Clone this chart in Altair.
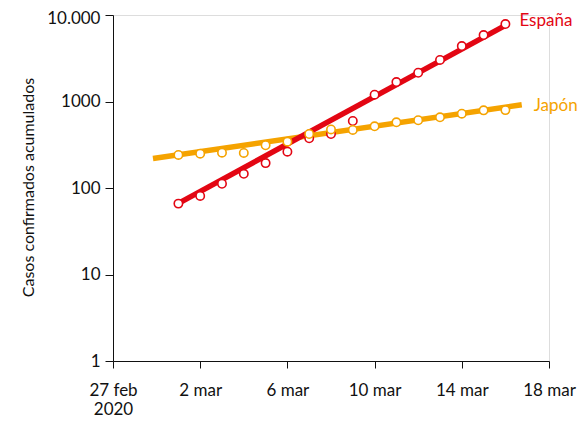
import json
import altair as alt
import pandas as pd

# ---- data ----
dates = ["2020-03-01", "2020-03-02", "2020-03-03", "2020-03-04", "2020-03-05",
         "2020-03-06", "2020-03-07", "2020-03-08", "2020-03-09", "2020-03-10",
         "2020-03-11", "2020-03-12", "2020-03-13", "2020-03-14", "2020-03-15",
         "2020-03-16"]
espana = [66, 81, 112, 146, 194, 263, 376, 421, 595, 1200, 1680, 2150, 3020,
          4380, 5870, 7850]
japon = [241, 249, 256, 254, 312, 343, 421, 475, 469, 517, 575, 607, 657,
         723, 790, 795]

# fitted trend lines (start / end)
fit_espana_dates = ["2020-03-01", "2020-03-16"]
fit_espana_vals = [66.5, 7600]
fit_japon_dates = ["2020-02-28T20:00:00", "2020-03-16T18:00:00"]
fit_japon_vals = [219, 918]

series_names = ["España", "Japón"]
series_colors = ["#e30613", "#f5a300"]

x_domain = ["2020-02-27", "2020-03-18"]
x_tick_dates = ["2020-02-27", "2020-03-02", "2020-03-06", "2020-03-10",
                "2020-03-14", "2020-03-18"]
x_tick_labels = [["27 feb", "2020"], "2 mar", "6 mar", "10 mar", "14 mar", "18 mar"]
y_ticks = [1, 10, 100, 1000, 10000]
y_tick_labels = ["1", "10", "100", "1000", "10.000"]
y_title = "Casos confirmados acumulados"

label_text = ["España", "Japón"]


def ms(d):
    return int(pd.Timestamp(d, tz="UTC").value // 10**6)


pts = pd.DataFrame({
    "date": [ms(d) for d in dates] * 2,
    "value": espana + japon,
    "serie": ["España"] * len(dates) + ["Japón"] * len(dates),
})
fit = pd.DataFrame({
    "date": [ms(d) for d in fit_japon_dates] + [ms(d) for d in fit_espana_dates],
    "value": fit_japon_vals + fit_espana_vals,
    "serie": ["Japón", "Japón", "España", "España"],
})

# label expressions built from the tick lists
x_expr = "''"
for d, lab in reversed(list(zip(x_tick_dates, x_tick_labels))):
    x_expr = f"time(datum.value) == {ms(d)} ? {json.dumps(lab)} : ({x_expr})"
y_expr = "''"
for v, lab in reversed(list(zip(y_ticks, y_tick_labels))):
    y_expr = f"datum.value == {v} ? {json.dumps(lab)} : ({y_expr})"

FONT = "Lato"
INK = "#111111"
color = alt.Color("serie:N", scale=alt.Scale(domain=series_names, range=series_colors),
                  legend=None)

x = alt.X("date:T",
          scale=alt.Scale(type="utc", domain=[ms(d) for d in x_domain], nice=False),
          axis=alt.Axis(values=[ms(d) for d in x_tick_dates], labelExpr=x_expr,
                        title=None, grid=False, tickSize=7, labelPadding=14,
                        labelLineHeight=19, labelFontSize=17, labelFont=FONT,
                        labelColor=INK, domainColor=INK, tickColor=INK,
                        labelFlush=False, labelOverlap=False))
y = alt.Y("value:Q",
          scale=alt.Scale(type="log", domain=[1, 10000], nice=False),
          axis=alt.Axis(values=y_ticks, labelExpr=y_expr, title=y_title,
                        grid=False, tickSize=8, labelPadding=5,
                        labelFontSize=17, labelFont=FONT, labelColor=INK,
                        labelOffset={"condition": {"test": "datum.value == 10000",
                                                   "value": 3}, "value": 0},
                        titleFont=FONT, titleFontSize=16, titleFontWeight="normal",
                        titleColor=INK, titleX=-80, titleY=172, titleAlign="center",
                        titleBaseline="alphabetic",
                        domainColor=INK, tickColor=INK, labelFlush=False))

lines = alt.Chart(fit).mark_line(strokeWidth=5.5, strokeCap="butt").encode(
    x=x, y=y, color=color, detail="serie:N",
    order=alt.Order("date:Q"))

points = alt.Chart(pts).mark_point(shape="circle", filled=False, fill="white",
                                   fillOpacity=1, size=70, strokeWidth=1.6,
                                   opacity=1).encode(
    x=x, y=y, color=color)

labels_df = pd.DataFrame({
    "date": [ms(dates[-1]), ms(fit_japon_dates[-1])],
    "value": [espana[-1], fit_japon_vals[-1]],
    "serie": series_names,
    "label": label_text,
})
lab_es = alt.Chart(labels_df[labels_df.serie == "España"]).mark_text(
    align="left", baseline="middle", dx=14, dy=-3, fontSize=17, font=FONT).encode(
    x=x, y=y, text="label:N", color=color)
lab_jp = alt.Chart(labels_df[labels_df.serie == "Japón"]).mark_text(
    align="left", baseline="middle", dx=12, dy=1, fontSize=17, font=FONT).encode(
    x=x, y=y, text="label:N", color=color)

chart = alt.layer(lines, points, lab_es, lab_jp).properties(
    width=436, height=346,
    autosize=alt.AutoSizeParams(type="none"),
    padding={"left": 105, "top": 7, "right": 30, "bottom": 58},
).configure_view(stroke=None).configure(background="white")

chart.save("out.html", embed_options={"renderer": "svg", "actions": False})
